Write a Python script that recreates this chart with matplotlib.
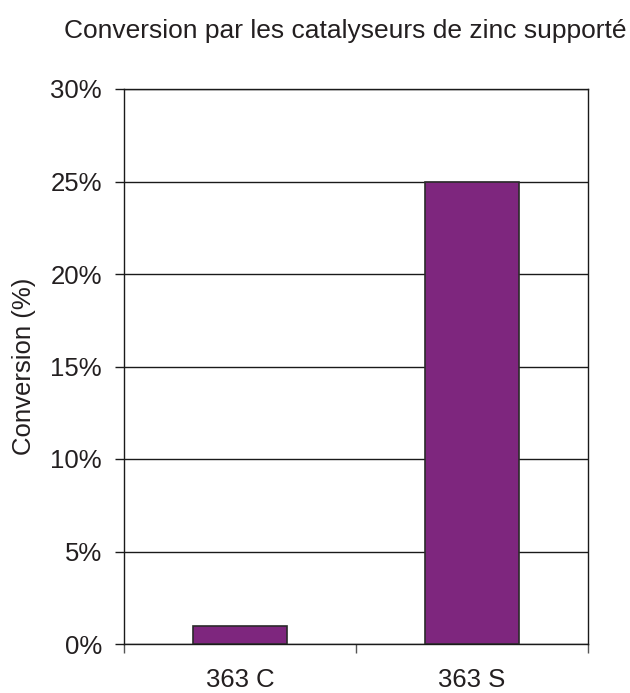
import matplotlib
matplotlib.use("Agg")
import matplotlib.pyplot as plt
import numpy as np
from matplotlib.ticker import FuncFormatter

categories = ["363 C", "363 S"]
conversion = [1.0, 25.0]
yticks = [0, 5, 10, 15, 20, 25, 30]
title = "Conversion par les catalyseurs de zinc supporté"
ylabel = "Conversion (%)"

plt.rcParams['font.family'] = ['Liberation Sans', 'DejaVu Sans']
txt = '#231f20'
fs = 18.5

fig = plt.figure(figsize=(6.3, 6.93), dpi=100)
ax = fig.add_axes([124/630, 1-644/693, (588-124)/630, (644-89)/693])

x = np.arange(len(categories))
ax.bar(x, conversion, width=0.405, color='#7e267e', edgecolor='#2a2a2a', linewidth=1.2, zorder=3)

ax.set_xlim(-0.5, len(categories) - 0.5)
ax.set_ylim(0, 30)
ax.set_yticks(yticks)
ax.yaxis.set_major_formatter(FuncFormatter(lambda v, p: f"{int(round(v))}%"))
ax.yaxis.grid(True, color='#1a1a1a', linewidth=1.0, zorder=1)
ax.set_axisbelow(True)

ax.set_xticks(x)
ax.set_xticklabels(categories)
ax.tick_params(axis='x', which='major', length=0, pad=17.5, labelsize=fs, labelcolor=txt)
ax.set_xticks(np.arange(-0.5, len(categories)), minor=True)
ax.tick_params(axis='x', which='minor', length=6.5, width=1.0, color='#555555', direction='out')
ax.tick_params(axis='y', length=6.5, width=1.0, direction='out', labelsize=fs, labelcolor=txt, pad=9.4, color='#1a1a1a')

for s in ['left', 'bottom', 'right', 'top']:
    ax.spines[s].set_color('#1a1a1a')
    ax.spines[s].set_linewidth(1.0)

ax.set_ylabel(ylabel, fontsize=fs, color=txt, labelpad=10)
fig.text(345/630, 1-38.3/693, title, ha='center', va='baseline', fontsize=19, color=txt)

fig.savefig("out.png", dpi=100)
